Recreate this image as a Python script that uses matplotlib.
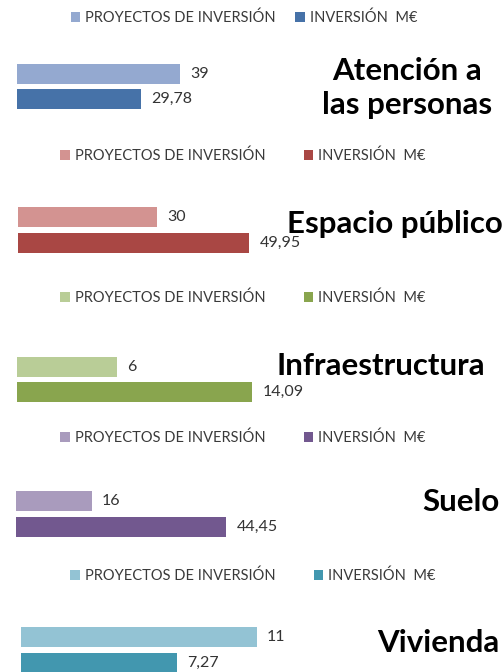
import matplotlib
matplotlib.use("Agg")
import matplotlib.pyplot as plt

# Data per category
categories = ["Atención a\nlas personas", "Espacio público", "Infraestructura", "Suelo", "Vivienda"]
proyectos = [39, 30, 6, 16, 11]
inversion = [29.78, 49.95, 14.09, 44.45, 7.27]
series_names = ["PROYECTOS DE INVERSIÓN", "INVERSIÓN  M€"]

light_colors = ["#94A9D0", "#D39391", "#B9CD97", "#A99BBD", "#93C3D4"]
dark_colors = ["#4672A8", "#A94744", "#89A54E", "#72588F", "#4297AF"]

# Layout in pixels (figure is 504 x 672 px)
W, H = 504, 672
bar_left = [17, 18, 17, 16, 21]
axes_top = [61, 204.5, 354, 488.5, 624.5]
axes_xmax = [71.9, 64.9, 18.0, 63.4, 14.0]   # each panel has its own scale
axes_w, axes_h = 300, 51
legend_xy = [(244, 18), (243, 156), (243, 298), (243, 438), (253, 576)]
legend_colspace = [1.3, 2.6, 2.6, 2.6, 2.6]
title_x = [407, 395, 381, 461, 438]
title_base = [80, 233, 375, 511, 652]
title_gap = 34

plt.rcParams["font.family"] = ["Lato", "DejaVu Sans"]

fig = plt.figure(figsize=(W / 100, H / 100), dpi=100)

def fx(px):
    return px / W

def fy(py):
    return 1 - py / H

fmt = lambda v: (f"{v:.2f}".replace(".", ",") if v != int(v) else f"{int(v)}")

for i, name in enumerate(categories):
    ax = fig.add_axes([fx(bar_left[i]), fy(axes_top[i] + axes_h),
                       axes_w / W, axes_h / H])
    vals = [proyectos[i], inversion[i]]
    bars = ax.barh([0, 1], vals, height=0.79,
                   color=[light_colors[i], dark_colors[i]])
    ax.set_xlim(0, axes_xmax[i])
    ax.set_ylim(1.5, -0.5)
    ax.axis("off")
    for b, v in zip(bars, vals):
        ax.annotate(fmt(v), (b.get_width(), b.get_y() + b.get_height() / 2),
                    xytext=(7.5, 0), textcoords="offset points",
                    ha="left", va="center", fontsize=11.5, color="#333333")
    lx, ly = legend_xy[i]
    ax.legend(bars, series_names, ncol=2, loc="center",
              bbox_to_anchor=(fx(lx), fy(ly)), bbox_transform=fig.transFigure,
              frameon=False, fontsize=10.5, handlelength=0.65, handleheight=0.65,
              handletextpad=0.35, columnspacing=legend_colspace[i],
              labelcolor="#3a3a3a", borderpad=0, borderaxespad=0)
    for k, line in enumerate(name.split("\n")):
        fig.text(fx(title_x[i]), fy(title_base[i] + k * title_gap), line,
                 ha="center", va="baseline", fontsize=22.5, fontweight="bold",
                 color="black")

fig.savefig("out.png", dpi=100)
